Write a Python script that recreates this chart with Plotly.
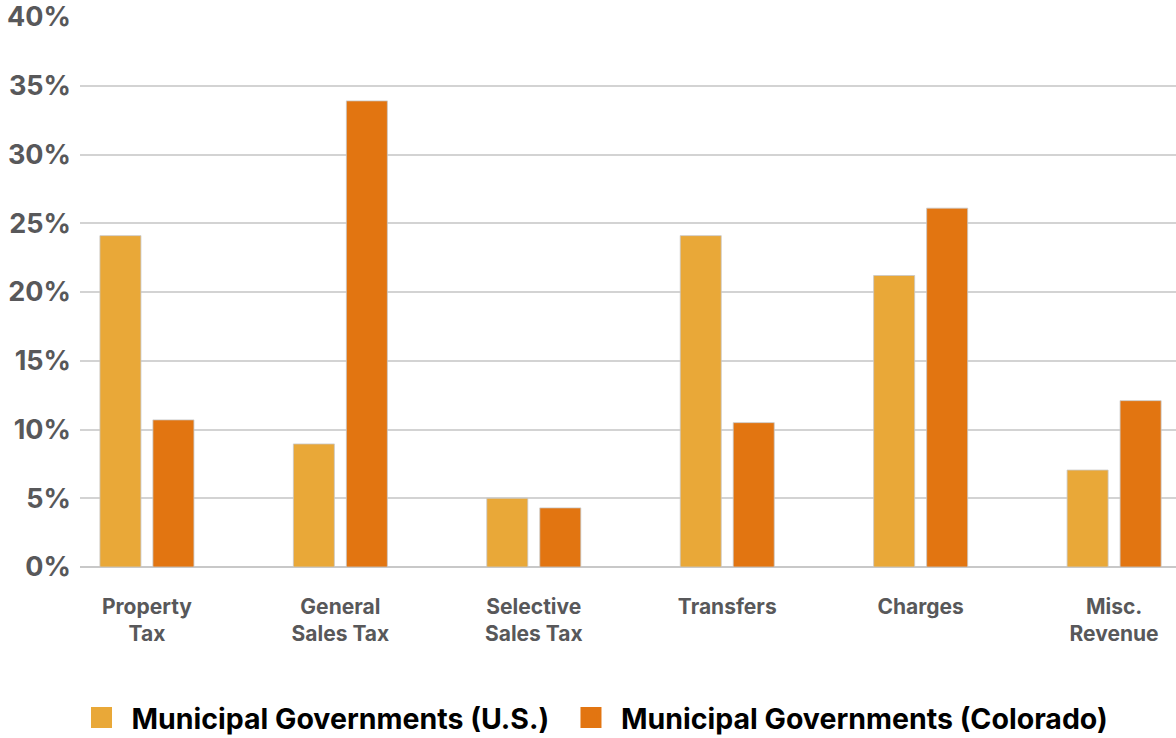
import plotly.graph_objects as go

categories = ["Property<br>Tax", "General<br>Sales Tax", "Selective<br>Sales Tax", "Transfers", "Charges", "Misc.<br>Revenue"]
us_values = [24.1, 8.95, 5.0, 24.1, 21.2, 7.05]
co_values = [10.7, 33.9, 4.3, 10.5, 26.1, 12.1]
series_names = ["Municipal Governments (U.S.)", "Municipal Governments (Colorado)"]
colors = ["#E9A838", "#E27511"]
y_ticks = [0, 5, 10, 15, 20, 25, 30, 35, 40]
y_tick_labels = ["0%", "5%", "10%", "15%", "20%", "25%", "30%", "35%", "40%"]

FONT = "Inter"
GREY = "#58585a"

fig = go.Figure()
for name, vals, col in zip(series_names, [us_values, co_values], colors):
    fig.add_trace(go.Bar(
        x=categories, y=vals, name=name, marker_color=col,
        marker_line=dict(color="rgba(200,200,200,0.8)", width=1),
        showlegend=False,
    ))
for i, (name, col) in enumerate(zip(series_names, colors)):
    pad = "\u00a0" if i == 0 else ""
    fig.add_trace(go.Scatter(
        x=[None], y=[None], mode="markers", name=name + pad,
        marker=dict(symbol="square", size=20, color=col, line=dict(color=col, width=5)),
    ))

fig.update_layout(
    width=1176, height=738,
    margin=dict(l=80, r=0, t=17, b=171),
    plot_bgcolor="white", paper_bgcolor="white",
    barmode="group", bargap=0.452, bargroupgap=0.226,
    font=dict(family=FONT, color=GREY),
    legend=dict(
        orientation="h", xref="container", yref="container",
        x=592.5/1176, xanchor="center", y=1-718/738, yanchor="middle",
        font=dict(family=FONT, size=28.5, color="black", weight=700),
        itemsizing="trace", itemwidth=50, tracegroupgap=0,
    ),
    xaxis=dict(
        type="category", range=[-0.346, 5.32],
        tickfont=dict(family=FONT, size=21, color=GREY, weight=700),
        ticks="", showline=False, ticklabelstandoff=25,
    ),
    yaxis=dict(
        range=[0, 40], tickvals=y_ticks, ticktext=y_tick_labels,
        tickfont=dict(family=FONT, size=27, color=GREY, weight=700),
        showgrid=True, gridcolor="#d3d3d3", gridwidth=1.5,
        zeroline=True, zerolinecolor="#c8c8c8", zerolinewidth=1.5,
        ticks="", ticklabelstandoff=8,
    ),
)

fig.write_html("out.html")
